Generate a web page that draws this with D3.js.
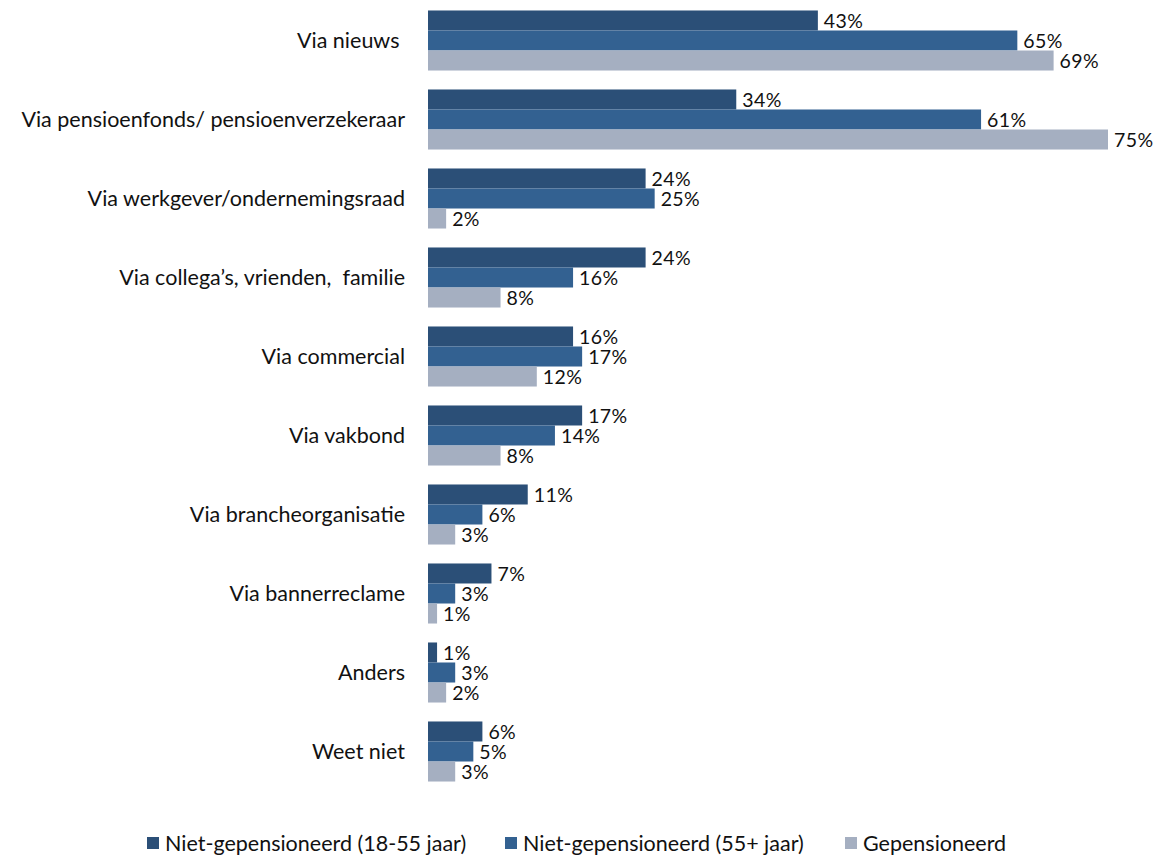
<!DOCTYPE html>
<html>
<head>
<meta charset="utf-8">
<script src="https://cdn.jsdelivr.net/npm/d3@7"></script>
<style>
  body { margin: 0; background: #fff; }
  text { font-family: Lato, "Open Sans", sans-serif; fill: #111; white-space: pre; }
</style>
</head>
<body>
<script>
// categories, top to bottom
var categories = ["Via nieuws ", "Via pensioenfonds/ pensioenverzekeraar", "Via werkgever/ondernemingsraad",
  "Via collega\u2019s, vrienden,  familie", "Via commercial", "Via vakbond", "Via brancheorganisatie",
  "Via bannerreclame", "Anders", "Weet niet"];

var series = ["Niet-gepensioneerd (18-55 jaar)", "Niet-gepensioneerd (55+ jaar)", "Gepensioneerd"];
var colors = ["#2b4f77", "#336191", "#a5afc1"];

var jong = [43, 34, 24, 24, 16, 17, 11, 7, 1, 6];
var oud = [65, 61, 25, 16, 17, 14, 6, 3, 3, 5];
var gepens = [69, 75, 2, 8, 12, 8, 3, 1, 2, 3];

var values = [jong, oud, gepens];

var width = 1160, height = 855;
var fs = 21.5;

var svg = d3.select("body").append("svg")
  .attr("width", width)
  .attr("height", height);

var x = d3.scaleLinear().domain([0, 75]).range([428, 1108]);

var y = d3.scaleBand().domain(categories).range([1, 791]).paddingInner(0.24).paddingOuter(0.12);

var ySub = d3.scaleBand().domain(d3.range(series.length)).range([0, y.bandwidth()]);

var groups = svg.selectAll(".grp")
  .data(categories)
  .enter().append("g")
  .attr("class", "grp")
  .attr("transform", function(d) { return "translate(0," + y(d) + ")"; });

groups.append("text")
  .attr("x", 405)
  .attr("y", y.bandwidth() / 2)
  .attr("dy", "0.35em")
  .attr("text-anchor", "end")
  .attr("font-size", fs)
  .text(function(d) { return d; });

groups.each(function(cat, ci) {
  var g = d3.select(this);
  series.forEach(function(s, si) {
    var v = values[si][ci];
    g.append("rect")
      .attr("x", x(0))
      .attr("y", ySub(si))
      .attr("width", x(v) - x(0))
      .attr("height", ySub.bandwidth())
      .attr("fill", colors[si]);
    g.append("text")
      .attr("x", x(v) + 6)
      .attr("y", ySub(si) + ySub.bandwidth() / 2)
      .attr("dy", "0.36em")
      .attr("font-size", 19.5)
      .attr("letter-spacing", 0.4)
      .text(v + "%");
  });
});

// legend
var legendX = [147, 505, 845];
var legend = svg.selectAll(".leg")
  .data(series)
  .enter().append("g")
  .attr("class", "leg")
  .attr("transform", function(d, i) { return "translate(" + legendX[i] + ",843)"; });

legend.append("rect")
  .attr("x", 0).attr("y", -6)
  .attr("width", 12).attr("height", 12)
  .attr("fill", function(d, i) { return colors[i]; });

legend.append("text")
  .attr("x", 18)
  .attr("dy", "0.36em")
  .attr("font-size", fs)
  .text(function(d) { return d; });
</script>
</body>
</html>
